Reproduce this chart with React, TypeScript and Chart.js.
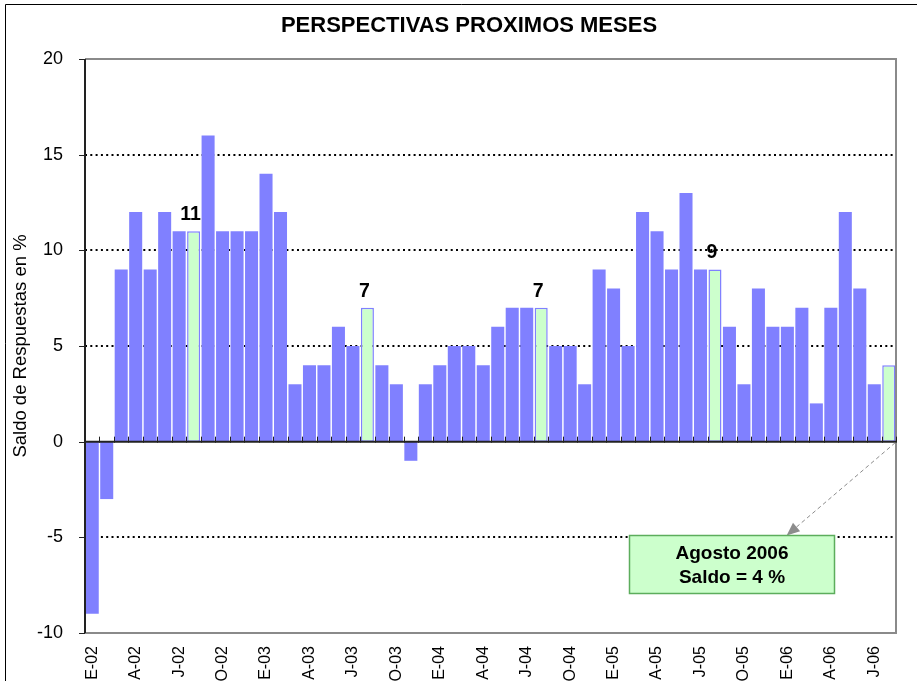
import React, { useEffect, useRef } from 'react';
import { Chart, registerables } from 'chart.js';

Chart.register(...registerables);

const FONT = '"Liberation Sans", Arial, Helvetica, sans-serif';

const TITLE = 'PERSPECTIVAS PROXIMOS MESES';
const Y_TITLE = 'Saldo de Respuestas en %';
const NOTE_LINES = ['Agosto 2006', 'Saldo = 4 %'];

const CATEGORIES = [
  'E-02', 'F-02', 'M-02', 'A-02', 'M-02', 'J-02', 'J-02', 'A-02', 'S-02', 'O-02', 'N-02', 'D-02',
  'E-03', 'F-03', 'M-03', 'A-03', 'M-03', 'J-03', 'J-03', 'A-03', 'S-03', 'O-03', 'N-03', 'D-03',
  'E-04', 'F-04', 'M-04', 'A-04', 'M-04', 'J-04', 'J-04', 'A-04', 'S-04', 'O-04', 'N-04', 'D-04',
  'E-05', 'F-05', 'M-05', 'A-05', 'M-05', 'J-05', 'J-05', 'A-05', 'S-05', 'O-05', 'N-05', 'D-05',
  'E-06', 'F-06', 'M-06', 'A-06', 'M-06', 'J-06', 'J-06', 'A-06',
];

const SALDO = [
  -9, -3, 9, 12, 9, 12, 11, 11, 16, 11, 11, 11,
  14, 12, 3, 4, 4, 6, 5, 7, 4, 3, -1, 3,
  4, 5, 5, 4, 6, 7, 7, 7, 5, 5, 3, 9,
  8, 5, 12, 11, 9, 13, 9, 9, 6, 3, 8, 6,
  6, 7, 2, 7, 12, 8, 3, 4,
];

// August months highlighted in green
const HIGHLIGHT_IDX = [7, 19, 31, 43, 55];
// bars carrying a value label
const LABEL_IDX = [7, 19, 31, 43];

const Y_MIN = -10;
const Y_MAX = 20;
const Y_STEP = 5;
const TICK_EVERY = 3;

// annotation box extents in data units (category index / value)
const NOTE_X = [37.06, 51.22];
const NOTE_Y = [-4.9, -7.9];
const ARROW_TIP_X = 47.95;

const BLUE = '#8080FF';
const GREEN = '#CCFFCC';

const drawPlugin = {
  id: 'excelLook',
  beforeDraw(chart: any) {
    const { ctx, chartArea } = chart;
    ctx.save();
    ctx.fillStyle = '#ffffff';
    ctx.fillRect(0, 0, chart.width, chart.height);
    // outer frame
    ctx.strokeStyle = '#000';
    ctx.lineWidth = 1;
    ctx.beginPath();
    ctx.moveTo(5.5, chart.height + 5);
    ctx.lineTo(5.5, 4.5);
    ctx.lineTo(chart.width + 5, 4.5);
    ctx.stroke();
    // title
    ctx.fillStyle = '#000';
    ctx.font = `bold 22px ${FONT}`;
    ctx.textAlign = 'center';
    ctx.textBaseline = 'alphabetic';
    ctx.fillText(TITLE, 469, 31.5);
    // y title
    ctx.save();
    ctx.translate(20.5, (chartArea.top + chartArea.bottom) / 2);
    ctx.rotate(-Math.PI / 2);
    ctx.font = `18.5px ${FONT}`;
    ctx.textBaseline = 'middle';
    ctx.textAlign = 'center';
    ctx.fillText(Y_TITLE, 0, 0);
    ctx.restore();
    ctx.restore();
  },
  beforeDatasetsDraw(chart: any) {
    const { ctx, chartArea } = chart;
    const y = chart.scales.y;
    ctx.save();
    // dotted gridlines
    ctx.strokeStyle = '#000';
    ctx.lineWidth = 2;
    ctx.setLineDash([2, 3.3]);
    for (let v = Y_MIN + Y_STEP; v < Y_MAX; v += Y_STEP) {
      if (v === 0) continue;
      const py = Math.round(y.getPixelForValue(v));
      ctx.beginPath();
      ctx.moveTo(chartArea.left, py);
      ctx.lineTo(chartArea.right, py);
      ctx.stroke();
    }
    ctx.setLineDash([]);
    // plot border: top, right, bottom gray
    ctx.strokeStyle = '#8a8a8a';
    ctx.lineWidth = 2;
    ctx.beginPath();
    ctx.moveTo(chartArea.left, chartArea.top);
    ctx.lineTo(chartArea.right, chartArea.top);
    ctx.lineTo(chartArea.right, chartArea.bottom);
    ctx.lineTo(chartArea.left, chartArea.bottom);
    ctx.stroke();
    ctx.restore();
  },
  afterDatasetsDraw(chart: any) {
    const { ctx, chartArea } = chart;
    const x = chart.scales.x;
    const y = chart.scales.y;
    const meta = chart.getDatasetMeta(0);
    ctx.save();
    // y axis line
    ctx.strokeStyle = '#222';
    ctx.lineWidth = 2;
    ctx.beginPath();
    ctx.moveTo(chartArea.left, chartArea.top);
    ctx.lineTo(chartArea.left, chartArea.bottom);
    ctx.stroke();
    // y tick marks
    ctx.lineWidth = 1;
    for (let v = Y_MIN; v <= Y_MAX; v += Y_STEP) {
      const py = Math.round(y.getPixelForValue(v)) + 0.5;
      ctx.beginPath();
      ctx.moveTo(chartArea.left - 6, py);
      ctx.lineTo(chartArea.left, py);
      ctx.stroke();
    }
    // zero line
    const y0 = y.getPixelForValue(0);
    ctx.strokeStyle = '#222';
    ctx.lineWidth = 2;
    ctx.beginPath();
    ctx.moveTo(chartArea.left, y0);
    ctx.lineTo(chartArea.right, y0);
    ctx.stroke();
    // category tick marks on zero line
    ctx.lineWidth = 1;
    for (let i = 0; i <= CATEGORIES.length; i++) {
      const px = Math.round(x.getPixelForValue(i - 0.5)) + 0.5;
      ctx.beginPath();
      ctx.moveTo(px, y0 - 5);
      ctx.lineTo(px, y0 + 1);
      ctx.stroke();
    }
    // value labels
    ctx.fillStyle = '#000';
    ctx.font = `bold 19.5px ${FONT}`;
    ctx.textAlign = 'center';
    ctx.textBaseline = 'alphabetic';
    LABEL_IDX.forEach((i) => {
      const bar = meta.data[i];
      ctx.fillText(String(SALDO[i]), bar.x - 3, bar.y - 11);
    });
    // annotation arrow
    const last = meta.data[SALDO.length - 1];
    const sx = last.x + last.width / 2;
    const sy = y0 + 1;
    const tx = x.getPixelForValue(ARROW_TIP_X);
    const ty = y.getPixelForValue(NOTE_Y[0]);
    ctx.strokeStyle = '#8c8c8c';
    ctx.lineWidth = 1;
    ctx.setLineDash([4, 3]);
    const ang = Math.atan2(ty - sy, tx - sx);
    const headLen = 13;
    const ex = tx - Math.cos(ang) * headLen;
    const ey = ty - Math.sin(ang) * headLen;
    ctx.beginPath();
    ctx.moveTo(sx, sy);
    ctx.lineTo(ex, ey);
    ctx.stroke();
    ctx.setLineDash([]);
    ctx.fillStyle = '#8c8c8c';
    ctx.beginPath();
    ctx.moveTo(tx, ty);
    ctx.lineTo(ex + Math.cos(ang + Math.PI / 2) * 5.5, ey + Math.sin(ang + Math.PI / 2) * 5.5);
    ctx.lineTo(ex + Math.cos(ang - Math.PI / 2) * 5.5, ey + Math.sin(ang - Math.PI / 2) * 5.5);
    ctx.closePath();
    ctx.fill();
    // annotation box
    const bx0 = Math.round(x.getPixelForValue(NOTE_X[0])) + 0.5;
    const bx1 = Math.round(x.getPixelForValue(NOTE_X[1])) + 0.5;
    const by0 = Math.round(y.getPixelForValue(NOTE_Y[0])) + 0.5;
    const by1 = Math.round(y.getPixelForValue(NOTE_Y[1])) + 0.5;
    ctx.fillStyle = GREEN;
    ctx.fillRect(bx0, by0, bx1 - bx0, by1 - by0);
    ctx.strokeStyle = '#5cad5c';
    ctx.lineWidth = 1.5;
    ctx.strokeRect(bx0, by0, bx1 - bx0, by1 - by0);
    ctx.fillStyle = '#000';
    ctx.font = `bold 19px ${FONT}`;
    ctx.textAlign = 'center';
    const cx = (bx0 + bx1) / 2;
    ctx.fillText(NOTE_LINES[0], cx, by0 + 23);
    ctx.fillText(NOTE_LINES[1], cx, by0 + 47);
    ctx.restore();
  },
};

export default function App() {
  const ref = useRef<HTMLCanvasElement | null>(null);

  useEffect(() => {
    document.body.style.margin = '0';
    document.body.style.overflow = 'hidden';
    const canvas = ref.current;
    if (!canvas) return;
    const chart = new Chart(canvas, {
      type: 'bar',
      data: {
        labels: CATEGORIES,
        datasets: [
          {
            data: SALDO,
            backgroundColor: SALDO.map((_, i) => (HIGHLIGHT_IDX.includes(i) ? GREEN : BLUE)),
            borderColor: SALDO.map((_, i) => (HIGHLIGHT_IDX.includes(i) ? BLUE : 'rgba(0,0,0,0)')),
            borderWidth: SALDO.map((_, i) => (HIGHLIGHT_IDX.includes(i) ? 1.5 : 0)),
            borderSkipped: false,
            barPercentage: 0.9,
            categoryPercentage: 1,
          },
        ],
      },
      options: {
        responsive: false,
        animation: false,
        devicePixelRatio: 1,
        layout: { padding: { top: 59, right: 21, left: 0, bottom: 0 } },
        plugins: {
          legend: { display: false },
          tooltip: { enabled: false },
          title: { display: false },
        },
        scales: {
          x: {
            grid: { display: false, drawTicks: false },
            border: { display: false },
            ticks: {
              autoSkip: false,
              maxRotation: 90,
              minRotation: 90,
              padding: 13,
              color: '#000',
              font: { family: FONT, size: 16 },
              callback: (_v: any, i: number) => (i % TICK_EVERY === 0 ? CATEGORIES[i] : ''),
            },
            afterFit: (s: any) => {
              s.height = 48;
              s.paddingLeft = 0;
              s.paddingRight = 0;
            },
          },
          y: {
            min: Y_MIN,
            max: Y_MAX,
            grid: { display: false, drawTicks: false },
            border: { display: false },
            ticks: {
              stepSize: Y_STEP,
              padding: 22,
              color: '#000',
              font: { family: FONT, size: 18 },
            },
            afterFit: (s: any) => {
              s.width = 85;
            },
          },
        },
      },
      plugins: [drawPlugin],
    });
    return () => chart.destroy();
  }, []);

  return <canvas ref={ref} width={917} height={681} style={{ display: 'block' }} />;
}
